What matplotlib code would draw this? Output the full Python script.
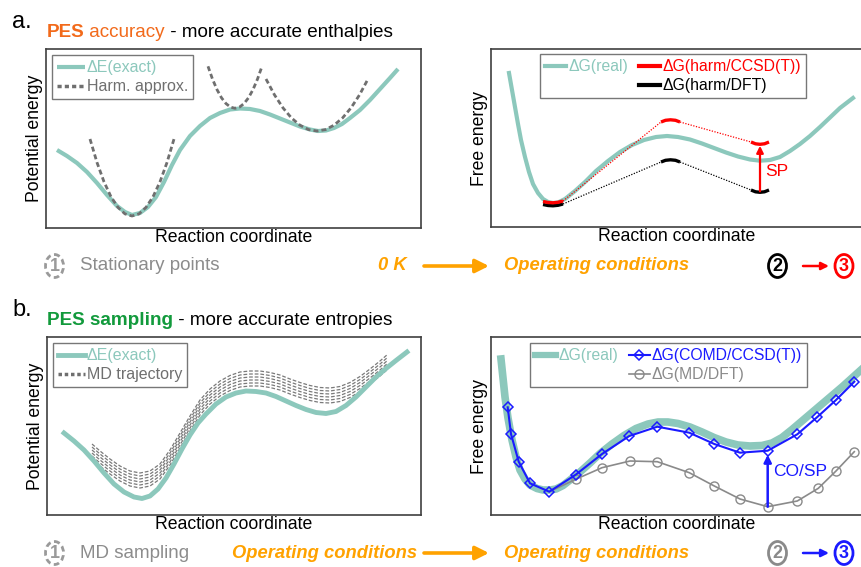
import matplotlib
matplotlib.use('Agg')
import matplotlib.pyplot as plt
from matplotlib import font_manager
from matplotlib.lines import Line2D
from matplotlib.patches import Ellipse

W, H = 861, 567
plt.rcParams['font.family'] = ['Liberation Sans', 'DejaVu Sans']

# colours
TEAL = '#8cc8bc'
GRAYD = '#6f6f6f'
GRAYT = '#8c8c8c'
ORANGE_T = '#f26a1b'
GREEN_T = '#129a3c'
ORANGE = '#ffa200'
RED = '#ff0000'
BLUE = '#1a1aff'

# ---- data (all in picture pixel units of each panel) ----
# a. left: exact PES
tl_x = [57, 67, 77, 87, 97, 107, 117, 125, 132, 140, 148, 156, 164, 172, 180, 190, 200, 210, 220, 230,
        240, 250, 260, 270, 280, 290, 300, 310, 318, 326, 334, 342, 350, 360, 370, 380, 390, 398]
tl_y = [150, 156, 163, 172, 183, 195, 206, 212, 215, 213, 207, 197, 182, 165, 150, 136, 126, 118, 113, 109.5,
        108.5, 109, 111, 114.5, 118.5, 122.5, 126.5, 129.5, 131, 130.5, 128, 124, 118, 110, 100, 89, 78, 69]
# harmonic approximations at the three stationary points
harm1_x = [90, 97, 104, 111, 118, 125, 132, 139, 146, 153, 160, 167, 174]
harm1_y = [139, 162.5, 181.8, 196.8, 207.4, 213.9, 216, 213.9, 207.4, 196.8, 181.8, 162.5, 139]
harm2_x = [208, 212.5, 217, 221.5, 226, 230.5, 235, 239.5, 244, 248.5, 253, 257.5, 262]
harm2_y = [66.3, 79.1, 89.6, 97.8, 103.6, 107.1, 108.3, 107.1, 103.6, 97.8, 89.6, 79.1, 66.3]
harm3_x = [266, 274.5, 283, 291.5, 300, 308.5, 317, 325.5, 334, 342.5, 351, 359.5, 368]
harm3_y = [79, 94.9, 107.9, 118, 125.2, 129.6, 131, 129.6, 125.2, 118, 107.9, 94.9, 79]

# a. right: real free energy and harmonic estimates
tr_x = [509, 512, 515, 518, 521, 525, 529, 533, 538, 543, 548, 553, 558, 565, 575, 585, 596, 608, 620, 632,
        644, 656, 667, 678, 690, 702, 714, 726, 738, 750, 760, 770, 780, 790, 800, 810, 820, 830, 840, 853]
tr_y = [73, 90, 107, 124, 140, 157, 172, 184, 193, 199, 202, 203, 202.5, 199, 191, 182, 171, 161, 152, 145,
        140, 137, 136, 137, 139.5, 143.5, 148, 152.5, 156.5, 159.5, 160.7, 160, 157, 151, 144, 136, 127,
        117.5, 108, 98]
sp_arc_x = [[543, 548, 553, 558, 563], [661, 665.5, 670.5, 675.5, 680], [751, 755.5, 760, 764.5, 769]]
ccsd_arc_y = [[201.5, 202.5, 202.8, 202.3, 201], [122, 120.3, 119.8, 120.3, 122], [142, 143.8, 144.3, 143.8, 142]]
dft_arc_y = [[204.5, 205.5, 205.8, 205.3, 204], [162, 160.3, 159.8, 160.3, 162], [190, 191.8, 192.3, 191.8, 190]]

# b. left: exact PES and MD trajectories
bl_x = [64, 74, 84, 94, 104, 114, 124, 134, 142, 150, 158, 166, 174, 182, 190, 198, 206, 216, 226, 236,
        246, 256, 266, 276, 286, 296, 306, 316, 326, 336, 346, 356, 366, 376, 386, 396, 407]
bl_y = [433, 441, 450, 461, 473, 484, 492, 497, 498.5, 496, 489, 478, 464, 449, 435, 423, 414, 404, 397, 393,
        391, 391.5, 393, 396.5, 401, 405.5, 409.5, 412.5, 413.5, 411.5, 405.5, 397, 387, 377, 368.5, 360.5, 352]
md_x = [92, 100, 110, 120, 130, 140, 150, 160, 170, 180, 190, 200, 210, 220, 230, 240, 250, 260, 270,
        280, 290, 300, 310, 320, 330, 340, 350, 360, 370, 380, 388]
md_y = [452, 459, 467, 474, 479, 481, 479, 472, 458, 441, 424, 408, 397, 389, 383.5, 380, 379, 379, 380.5,
        383, 387, 390.5, 393.5, 395.5, 396, 394.5, 390.5, 384.5, 377, 369, 362]
md_offsets = [-8, -5, -2, 1, 4, 7]

# b. right: real free energy, COMD/CCSD(T) and MD/DFT
br_x = [501, 503, 505, 508, 512, 516, 520, 525, 530, 537, 543, 550, 556, 563, 570, 580, 590, 600, 612, 624,
        636, 648, 658, 668, 678, 690, 702, 714, 726, 738, 750, 762, 772, 782, 792, 802, 812, 822, 832, 842,
        852, 862]
br_y = [359, 378, 397, 418, 440, 457, 470, 479, 485, 488.5, 490, 490, 489, 485.5, 480, 472, 463, 453.5, 444,
        435.5, 428.5, 424, 422, 422, 423.5, 427, 432, 437.5, 442, 445, 446, 445.5, 443, 437.5, 429.5, 421,
        412.5, 404, 395.5, 387, 378, 369]
comd_x = [507.7, 511, 518.7, 530, 549.3, 575.7, 602, 629.3, 657.3, 689.3, 714.3, 740, 767.7, 797.3, 817.3, 836, 854.3]
comd_y = [407.3, 434, 461.7, 483.3, 491.7, 474.7, 454, 436, 426.7, 432.7, 444, 452.7, 450.7, 434.3, 417, 400, 381.7]
mddft_x = [549.3, 575.7, 602, 630, 657.3, 689.3, 714.3, 740, 767.7, 797.3, 818.3, 836, 854.3]
mddft_y = [491.7, 479.3, 467.7, 461, 461.7, 472.7, 486, 499, 506.7, 501, 488.3, 471, 451.7]

fig = plt.figure(figsize=(W / 100, H / 100), dpi=100)
ax0 = fig.add_axes([0, 0, 1, 1])
ax0.set_xlim(0, W)
ax0.set_ylim(H, 0)
ax0.axis('off')


def panel(l, t, r, b, ylabel):
    ax = fig.add_axes([l / W, 1 - b / H, (r - l) / W, (b - t) / H])
    ax.set_xlim(l, r)
    ax.set_ylim(b, t)
    ax.set_xticks([])
    ax.set_yticks([])
    for s in ax.spines.values():
        s.set_color('#404040')
        s.set_linewidth(1.2)
    ax.set_xlabel('Reaction coordinate', fontsize=12.7, labelpad=1)
    ax.set_ylabel(ylabel, fontsize=12.7, labelpad=2.5)
    return ax


def rich_text(x, y, parts, size):
    s, w, c = parts[0]
    t = ax0.text(x, y, s, fontsize=size, fontweight=w, color=c, va='baseline')
    for s, w, c in parts[1:]:
        t = ax0.annotate(s, xy=(1, 0), xycoords=t, fontsize=size, fontweight=w, color=c, va='bottom')


def legend(ax, handles, labels, anchor, ncol=1, size=11.5, hl=1.7):
    leg = ax.legend(handles, labels, loc='upper left', bbox_to_anchor=anchor, borderaxespad=0, ncol=ncol,
                    fontsize=size, handlelength=hl, handletextpad=0.12, borderpad=0.32, labelspacing=0.25,
                    columnspacing=0.7, fancybox=False, edgecolor='#555555', labelcolor='linecolor')
    leg.get_frame().set_linewidth(1.0)
    return leg


# ---------------- a. ----------------
ax0.text(12, 28, 'a.', fontsize=17, va='baseline')
rich_text(46.5, 37, [('PES', 'bold', ORANGE_T), (' accuracy', 'normal', ORANGE_T),
                     (' - more accurate enthalpies', 'normal', 'black')], 13.6)

ax = panel(46, 49, 420.5, 228, 'Potential energy')
l_exact, = ax.plot(tl_x, tl_y, color=TEAL, lw=3, solid_capstyle='butt')
for hx, hy in [(harm1_x, harm1_y), (harm2_x, harm2_y), (harm3_x, harm3_y)]:
    ax.plot(hx, hy, color=GRAYD, lw=2, ls=(0, (1.8, 1.1)))
p_harm = Line2D([], [], color=GRAYD, lw=2.5, ls=(0, (1.2, 0.9)))
legend(ax, [l_exact, p_harm], ['ΔE(exact)', 'Harm. approx.'], (0.017, 0.966))

ax = panel(491, 49, 863, 227, 'Free energy')
l_real, = ax.plot(tr_x, tr_y, color=TEAL, lw=3)
for arcs, col in [(dft_arc_y, 'black'), (ccsd_arc_y, RED)]:
    for i in range(len(sp_arc_x) - 1):
        ax.plot([sp_arc_x[i][-1], sp_arc_x[i + 1][0]], [arcs[i][-1], arcs[i + 1][0]],
                color=col, lw=0.9, ls=(0, (1, 1.2)))
    for i in range(len(sp_arc_x)):
        ax.plot(sp_arc_x[i], arcs[i], color=col, lw=2.4, solid_capstyle='butt')
ax.annotate('', xy=(sp_arc_x[2][2], ccsd_arc_y[2][2] + 1.5), xytext=(sp_arc_x[2][2], dft_arc_y[2][2] - 1),
            arrowprops=dict(arrowstyle='-|>', color=RED, lw=1.6, mutation_scale=10, shrinkA=0, shrinkB=0))
ax.text(765, 171, 'SP', color=RED, fontsize=12.5, va='center')
h_ccsd = Line2D([], [], color=RED, lw=3)
h_dft = Line2D([], [], color='black', lw=3)
h_blank = Line2D([], [], color='none')
legend(ax, [l_real, h_blank, h_ccsd, h_dft], ['ΔG(real)', '', 'ΔG(harm/CCSD(T))', 'ΔG(harm/DFT)'],
       (0.132, 0.97), ncol=2, size=11.3, hl=1.35)

# ---------------- row texts ----------------
avail = {f.name for f in font_manager.fontManager.ttflist}
if 'Liberation Sans Narrow' in avail:
    row_fam, row_size = ['Liberation Sans Narrow', 'Liberation Sans'], 15.6
else:
    row_fam, row_size = ['Liberation Sans', 'DejaVu Sans'], 13.2


def circled(x, y, num, col, dashed=False):
    ax0.add_patch(Ellipse((x, y), 18, 23, fill=False, ec=col, lw=2,
                          ls=(0, (2, 1.3)) if dashed else '-'))
    ax0.text(x, y + 0.5, num, color=col, fontsize=13, fontweight='bold', ha='center', va='center')


def orange_arrow(y):
    ax0.annotate('', xy=(489, y), xytext=(424, y),
                 arrowprops=dict(arrowstyle='-|>', color=ORANGE, lw=2.6, mutation_scale=20,
                                 shrinkA=0, shrinkB=0))


def small_arrow(y, col):
    ax0.annotate('', xy=(829, y), xytext=(803, y),
                 arrowprops=dict(arrowstyle='-|>', color=col, lw=1.8, mutation_scale=11,
                                 shrinkA=0, shrinkB=0))


yr = 266
circled(54.5, yr, '1', '#9a9a9a', dashed=True)
ax0.text(80, yr, 'Stationary points', color=GRAYT, fontsize=13.5, va='center')
ax0.text(378, yr, '0 K', color=ORANGE, family=row_fam, fontsize=row_size, fontweight='bold',
         style='italic', va='center')
orange_arrow(yr)
ax0.text(504, yr, 'Operating conditions', color=ORANGE, family=row_fam, fontsize=row_size,
         fontweight='bold', style='italic', va='center')
circled(777.5, yr, '2', 'black')
small_arrow(yr, RED)
circled(844, yr, '3', RED)

# ---------------- b. ----------------
ax0.text(12, 316, 'b.', fontsize=17, va='baseline')
rich_text(47, 325, [('PES sampling', 'bold', GREEN_T), (' - more accurate entropies', 'normal', 'black')], 13.6)

ax = panel(47, 337, 420.5, 515, 'Potential energy')
for off in md_offsets:
    ax.plot(md_x, [v + off for v in md_y], color='#7a7a7a', lw=0.9, ls=(0, (3, 1.5)))
l_exact, = ax.plot(bl_x, bl_y, color=TEAL, lw=3.5)
p_md = Line2D([], [], color=GRAYD, lw=2.5, ls=(0, (1, 0.8)))
legend(ax, [l_exact, p_md], ['ΔE(exact)', 'MD trajectory'], (0.0155, 0.965))

ax = panel(491, 337, 863, 515, 'Free energy')
l_real, = ax.plot(br_x, br_y, color=TEAL, lw=5.5)
l_dft, = ax.plot(mddft_x, mddft_y, color='#8a8a8a', lw=1.2, marker='o', ms=6.5, mfc='none', mew=1,
                 markevery=list(range(1, len(mddft_x))))
l_comd, = ax.plot(comd_x, comd_y, color=BLUE, lw=1.5, marker='D', ms=5.5, mfc='none', mew=1.1)
ax.annotate('', xy=(comd_x[12], comd_y[12] + 4), xytext=(mddft_x[8], mddft_y[8]),
            arrowprops=dict(arrowstyle='-|>', color=BLUE, lw=1.8, mutation_scale=11, shrinkA=0, shrinkB=0))
ax.text(773, 471.5, 'CO/SP', color=BLUE, fontsize=12.5, va='center')
h_real = Line2D([], [], color=TEAL, lw=4.5)
h_dft = Line2D([], [], color='#8a8a8a', lw=1.2, marker='o', ms=6.5, mfc='none', mew=1)
legend(ax, [h_real, h_blank, l_comd, h_dft], ['ΔG(real)', '', 'ΔG(COMD/CCSD(T))', 'ΔG(MD/DFT)'],
       (0.105, 0.965), ncol=2, size=11.3, hl=1.35)

yr = 553
circled(54.5, yr, '1', '#9a9a9a', dashed=True)
ax0.text(80, yr, 'MD sampling', color=GRAYT, fontsize=13.5, va='center')
ax0.text(417, yr, 'Operating conditions', color=ORANGE, family=row_fam, fontsize=row_size,
         fontweight='bold', style='italic', va='center', ha='right')
orange_arrow(yr)
ax0.text(504, yr, 'Operating conditions', color=ORANGE, family=row_fam, fontsize=row_size,
         fontweight='bold', style='italic', va='center')
circled(777.5, yr, '2', '#8a8a8a')
small_arrow(yr, BLUE)
circled(844, yr, '3', BLUE)

fig.savefig('out.png', dpi=100)
